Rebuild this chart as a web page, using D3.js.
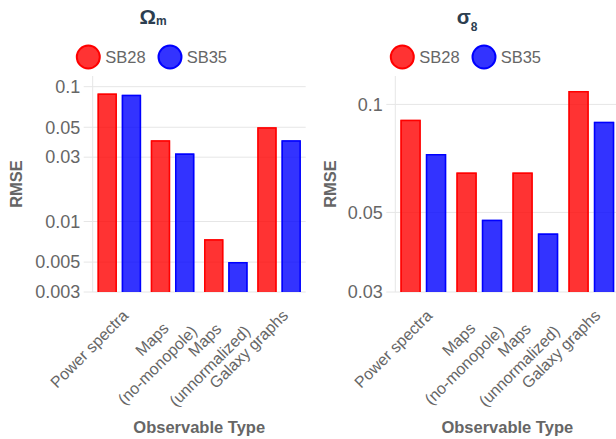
<!DOCTYPE html>
<html>
<head>
<meta charset="utf-8">
<script src="https://cdn.jsdelivr.net/npm/d3@7"></script>
<style>
  html, body { margin: 0; padding: 0; background: #fff; }
  svg { display: block; }
  text { font-family: "Liberation Sans", Arial, Helvetica, sans-serif; }
</style>
</head>
<body>
<svg id="chart" width="616" height="439"></svg>
<script>
// Observable types on the x axis (multi-line labels split on "\n")
const categories = ["Power spectra", "Maps\n(no-monopole)", "Maps\n(unnormalized)", "Galaxy graphs"];
const seriesNames = ["SB28", "SB35"];

// RMSE for Omega_m
const omegaSB28 = [0.089, 0.040, 0.0074, 0.050];
const omegaSB35 = [0.087, 0.032, 0.0050, 0.040];
const omegaTicks = [0.003, 0.005, 0.01, 0.03, 0.05, 0.1];

// RMSE for sigma_8
const sigmaSB28 = [0.0906, 0.0646, 0.0646, 0.109];
const sigmaSB35 = [0.0727, 0.0477, 0.0437, 0.0894];
const sigmaTicks = [0.03, 0.05, 0.1];

const colors = { SB28: "rgb(255,0,0)", SB35: "rgb(0,0,255)" };
const fills = { SB28: "rgba(255,0,0,0.8)", SB35: "rgba(0,0,255,0.8)" };
const textGray = "#666";
const gridGray = "#e6e6e6";

const svg = d3.select("#chart");

function drawPanel(opts) {
  const { center, left, right, top, bottom, domain, ticks, valuesA, valuesB, title, sub, subShift } = opts;
  const g = svg.append("g");

  // title with subscript
  const t = g.append("text")
    .attr("x", center).attr("y", 24)
    .attr("text-anchor", "middle")
    .attr("fill", "#2c3e50")
    .attr("font-weight", "bold");
  t.append("tspan").attr("font-size", 20.5).text(title);
  t.append("tspan").attr("font-size", 12).attr("dy", subShift).text(sub);

  // legend
  const legendItems = [
    { name: "SB28", cx: center - 64.7, tx: center - 47.7 },
    { name: "SB35", cx: center + 17, tx: center + 33.7 }
  ];
  legendItems.forEach(d => {
    g.append("circle").attr("cx", d.cx).attr("cy", 57).attr("r", 11.5)
      .attr("fill", fills[d.name]).attr("stroke", colors[d.name]).attr("stroke-width", 2);
    g.append("text").attr("x", d.tx).attr("y", 63.2)
      .attr("font-size", 16.5).attr("fill", textGray).text(d.name);
  });

  const y = d3.scaleLog().domain(domain).range([bottom, top]);
  const x0 = d3.scaleBand().domain(categories).range([left, right]).padding(0);
  const x1 = d3.scaleBand().domain(seriesNames).range([0, x0.bandwidth()])
    .paddingInner(0.2).paddingOuter(0.2);

  // gridlines and tick labels
  ticks.forEach(v => {
    g.append("line")
      .attr("x1", left - 9).attr("x2", right)
      .attr("y1", y(v)).attr("y2", y(v))
      .attr("stroke", gridGray).attr("stroke-width", 1);
    g.append("text")
      .attr("x", left - 12.5).attr("y", y(v)).attr("dy", "0.35em")
      .attr("text-anchor", "end").attr("font-size", 18).attr("fill", textGray)
      .text(d3.format("~g")(v));
  });
  // y axis line
  g.append("line").attr("x1", left).attr("x2", left).attr("y1", top).attr("y2", bottom)
    .attr("stroke", gridGray).attr("stroke-width", 1);

  // bars
  const rows = categories.map((c, i) => ({ c, vals: [["SB28", valuesA[i]], ["SB35", valuesB[i]]] }));
  rows.forEach(r => {
    r.vals.forEach(([s, v]) => {
      const bx = x0(r.c) + x1(s);
      const bw = x1.bandwidth();
      const by = y(v);
      g.append("rect").attr("x", bx).attr("y", by).attr("width", bw).attr("height", bottom - by)
        .attr("fill", fills[s]);
      g.append("path")
        .attr("d", `M${bx + 0.75},${bottom}V${by + 0.75}H${bx + bw - 0.75}V${bottom}`)
        .attr("fill", "none").attr("stroke", colors[s]).attr("stroke-width", 1.5);
    });
  });

  // x tick labels, rotated; shorter lines of a multi-line label sit partly inward
  categories.forEach(c => {
    const cx = x0(c) + x0.bandwidth() / 2;
    const lines = c.split("\n");
    const lab = g.append("text")
      .attr("transform", `translate(${cx + 10},${bottom + 24.6}) rotate(-45)`)
      .attr("text-anchor", "end").attr("font-size", 16).attr("fill", textGray);
    const spans = lines.map((ln, i) =>
      lab.append("tspan").attr("x", 0).attr("dy", i === 0 ? 0 : 22).text(ln));
    const widths = spans.map(s => s.node().getComputedTextLength());
    const wmax = d3.max(widths);
    spans.forEach((s, i) => s.attr("x", -0.28 * (wmax - widths[i])));
  });

  // axis titles
  g.append("text")
    .attr("x", (left + right) / 2).attr("y", 432.5)
    .attr("text-anchor", "middle").attr("font-size", 16.5).attr("font-weight", "bold")
    .attr("fill", textGray).text("Observable Type");
  g.append("text")
    .attr("transform", `translate(${opts.rmseX},${(top + bottom) / 2}) rotate(-90)`)
    .attr("text-anchor", "middle").attr("font-size", 16.5).attr("font-weight", "bold")
    .attr("fill", textGray).text("RMSE");
}

drawPanel({
  center: 153, left: 92.7, right: 305.7, top: 76, bottom: 292,
  domain: [0.003, 0.12], ticks: omegaTicks,
  valuesA: omegaSB28, valuesB: omegaSB35,
  title: "Ω", sub: "m", subShift: 1, rmseX: 21.7
});

drawPanel({
  center: 467, left: 395.3, right: 619.3, top: 76, bottom: 292,
  domain: [0.03, 0.12], ticks: sigmaTicks,
  valuesA: sigmaSB28, valuesB: sigmaSB35,
  title: "σ", sub: "8", subShift: 7, rmseX: 336.3
});
</script>
</body>
</html>
